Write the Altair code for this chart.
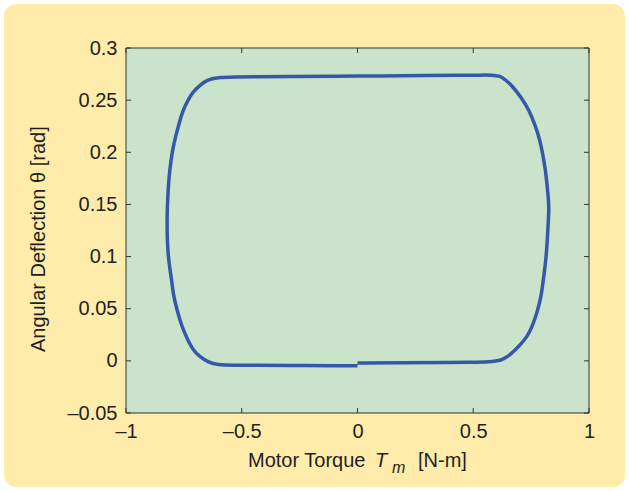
import altair as alt
import pandas as pd

# Closed torque / deflection trajectory, in drawing order:
# bottom edge to the right, up the right flank, back along the top, down the left flank
torque = [0.00, 0.20, 0.40, 0.486, 0.572, 0.624, 0.646, 0.672, 0.702, 0.732,
          0.754, 0.775, 0.793, 0.801, 0.814, 0.819, 0.823, 0.827,
          0.825, 0.819, 0.812, 0.801, 0.788, 0.767, 0.741, 0.706, 0.672,
          0.641, 0.616, 0.581, 0.53, 0.45, 0.30, 0.10, -0.10, -0.30, -0.45,
          -0.53, -0.607, -0.650, -0.680, -0.711, -0.732, -0.754, -0.775,
          -0.793, -0.806, -0.814, -0.819, -0.823, -0.822, -0.819, -0.810,
          -0.801, -0.797, -0.780, -0.758, -0.737, -0.711, -0.680, -0.646,
          -0.607, -0.53, -0.45, -0.30, -0.10, 0.00]
deflection = [-0.0020, -0.0018, -0.0016, -0.0015, -0.0011, 0.0006, 0.0037, 0.0085, 0.0152, 0.0229,
              0.0325, 0.0459, 0.0612, 0.0747, 0.0967, 0.1130, 0.1284, 0.1447,
              0.1543, 0.1686, 0.1830, 0.1974, 0.2118, 0.2262, 0.2406, 0.2530, 0.2626,
              0.2693, 0.2732, 0.2741, 0.2740, 0.2738, 0.2736, 0.2732, 0.2729, 0.2726, 0.2724,
              0.2722, 0.2717, 0.2693, 0.2645, 0.2578, 0.2501, 0.2405, 0.2242,
              0.2089, 0.1926, 0.1763, 0.1609, 0.1380, 0.1188, 0.1034, 0.0871,
              0.0747, 0.0651, 0.0488, 0.0325, 0.0219, 0.0104, 0.0037, -0.0011,
              -0.0040, -0.0041, -0.0042, -0.0044, -0.0046, -0.0047]

x_ticks = [-1, -0.5, 0, 0.5, 1]
y_ticks = [-0.05, 0, 0.05, 0.1, 0.15, 0.2, 0.25, 0.3]

W, H = 463, 365
FONT = "Liberation Sans"
INK = "#231F20"

curve_df = pd.DataFrame({"step": range(len(torque)), "torque": torque, "theta": deflection})
xt_df = pd.DataFrame({"v": x_ticks})
yt_df = pd.DataFrame({"v": y_ticks})
one = pd.DataFrame({"k": [0]})

xscale = alt.Scale(domain=[-1, 1], nice=False, zero=False)
yscale = alt.Scale(domain=[-0.05, 0.3], nice=False, zero=False)
neg_dash = "datum.value < 0 ? '\u2013' + format(-datum.value, '') : format(datum.value, '')"

# Rounded panel behind everything
panel = alt.Chart(one).mark_rect(fill="#FFECAA", cornerRadius=12).encode(
    x=alt.value(-122), x2=alt.value(499), y=alt.value(-44), y2=alt.value(439)
)

# Plot area fill with its frame
frame = alt.Chart(one).mark_rect(fill="#C9E4CB", stroke="#333333", strokeWidth=1).encode(
    x=alt.value(0), x2=alt.value(W), y=alt.value(0), y2=alt.value(H)
)

curve = alt.Chart(curve_df).mark_line(
    color="#3558A8", strokeWidth=3.5, interpolate="basis"
).encode(
    x=alt.X("torque:Q", scale=xscale,
            axis=alt.Axis(values=x_ticks, title=None, ticks=False, domain=False, grid=False,
                          labelExpr=neg_dash, labelFont=FONT, labelFontSize=20,
                          labelColor=INK, labelPadding=8, labelFlush=False, zindex=1)),
    y=alt.Y("theta:Q", scale=yscale,
            axis=alt.Axis(values=y_ticks, title=None, ticks=False, domain=False, grid=False,
                          labelExpr=neg_dash, labelFont=FONT, labelFontSize=20,
                          labelColor=INK, labelPadding=9, labelFlush=False, zindex=1)),
    order="step:Q",
)

# Inward tick marks on all four sides
tick_style = dict(color="#333333", strokeWidth=1)
tb = alt.Chart(xt_df).mark_rule(**tick_style).encode(
    x=alt.X("v:Q", scale=xscale), y=alt.value(H), y2=alt.value(H - 5))
tt = alt.Chart(xt_df).mark_rule(**tick_style).encode(
    x=alt.X("v:Q", scale=xscale), y=alt.value(0), y2=alt.value(5))
tl = alt.Chart(yt_df).mark_rule(**tick_style).encode(
    y=alt.Y("v:Q", scale=yscale), x=alt.value(0), x2=alt.value(5))
tr = alt.Chart(yt_df).mark_rule(**tick_style).encode(
    y=alt.Y("v:Q", scale=yscale), x=alt.value(W), x2=alt.value(W - 5))

def label(txt, x, y, size=20, style="normal", angle=0):
    return alt.Chart(one).mark_text(
        text=txt, font=FONT, fontSize=size, fontStyle=style, color=INK,
        align="left", baseline="alphabetic", angle=angle
    ).encode(x=alt.value(x), y=alt.value(y))

xtitle = (label("Motor Torque", 122, 419)
          + label("T", 249, 419, style="italic")
          + label("m", 266, 425, size=16, style="italic")
          + label("[N-m]", 292, 419))
ytitle = label("Angular Deflection \u03b8 [rad]", -81.5, 304, angle=270)

chart = alt.layer(panel, frame, curve, tb, tt, tl, tr, xtitle, ytitle).properties(
    width=W, height=H,
    padding={"left": 126, "top": 48, "right": 40, "bottom": 78},
    autosize=alt.AutoSizeParams(type="none"),
).configure(background="white").configure_view(stroke="transparent")

chart.save("out.html", embed_options={"renderer": "svg", "actions": False})
